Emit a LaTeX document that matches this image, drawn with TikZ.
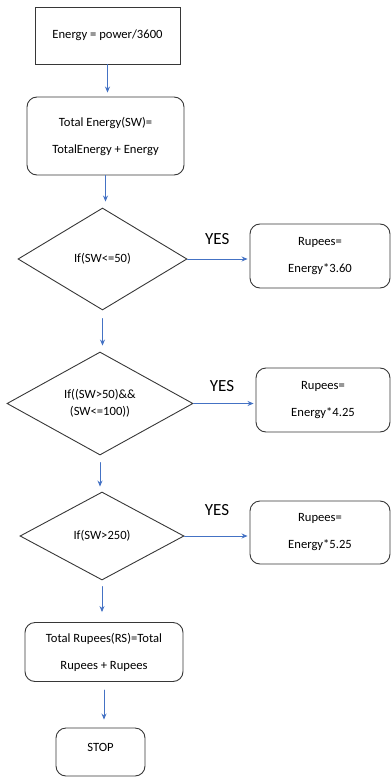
\documentclass[tikz,border=0pt]{standalone}
\usepackage{fontspec}
\setmainfont{Carlito}
\usetikzlibrary{shapes.geometric, arrows.meta}

\definecolor{flowblue}{RGB}{68,114,196}
\definecolor{boxgray}{RGB}{55,55,55}

\begin{document}
\begin{tikzpicture}[%
        x = 1pt,
        y = -1pt,
        line cap = round,
        every node/.style = {font = \fontsize{12.6}{27}\selectfont, align = center},
        plainbox/.style = {draw = boxgray, line width = 0.9pt, inner sep = 0pt},
        roundbox/.style = {plainbox, rounded corners = 10pt},
        decision/.style = {plainbox, diamond},
        flow/.style = {draw = flowblue, line width = 0.8pt,
            -{Stealth[length = 6pt, width = 5pt]}}
    ]
        % Fix the page to the size of the reference.
        \useasboundingbox (0, 0) rectangle (391, 778);

        % Boxes down the main column.
        \node[plainbox, minimum width = 145pt, minimum height = 57pt]
            (Energy) at (107.5, 35.5) {Energy = power/3600};
        \node[roundbox, minimum width = 157pt, minimum height = 78pt]
            (Total_Energy) at (105.5, 136) {Total Energy(SW)=\\TotalEnergy + Energy};

        % The three tests.
        \node[decision, minimum width = 169pt, minimum height = 102pt]
            (Test_One) at (102.5, 259) {If(SW<=50)};
        \node[decision, minimum width = 186pt, minimum height = 103pt,
            font = \fontsize{12.6}{17}\selectfont]
            (Test_Two) at (100, 403.5) {If((SW>50)\&\&\\(SW<=100))};
        \node[decision, minimum width = 164pt, minimum height = 88pt]
            (Test_Three) at (102, 536) {If(SW>250)};

        % Rupees for each test.
        \node[roundbox, minimum width = 140pt, minimum height = 64pt]
            (Rupees_One) at (320, 256) {Rupees=\\Energy*3.60};
        \node[roundbox, minimum width = 134pt, minimum height = 64pt]
            (Rupees_Two) at (323, 400) {Rupees=\\Energy*4.25};
        \node[roundbox, minimum width = 140pt, minimum height = 63pt]
            (Rupees_Three) at (320, 532.5) {Rupees=\\Energy*5.25};

        % End of the column.
        \node[roundbox, minimum width = 158pt, minimum height = 59pt]
            (Total_Rupees) at (104, 652) {Total Rupees(RS)=Total\\Rupees + Rupees};
        \node[roundbox, minimum width = 89pt, minimum height = 48pt, text depth = 10pt]
            (Stop) at (100.5, 752) {STOP};

        % Arrows down the column.
        \draw[flow, shorten > = 4pt] (Energy.south) -- (Energy.south |- Total_Energy.north);
        \draw[flow, shorten > = 6pt] (Total_Energy.south) -- (Total_Energy.south |- Test_One.north);
        \draw[flow, shorten < = 8pt, shorten > = 6pt] (Test_One.south) -- (Test_One.south |- Test_Two.north);
        \draw[flow, shorten < = 7pt, shorten > = 5pt] (Test_Two.south) -- (Test_Two.south |- Test_Three.north);
        \draw[flow, shorten < = 6pt, shorten > = 10pt] (Test_Three.south) -- (Test_Three.south |- Total_Rupees.north);
        \draw[flow, shorten < = 8pt, shorten > = 8pt] (Total_Rupees.south) -- (Total_Rupees.south |- Stop.north);

        % YES branches.
        \draw[flow, shorten > = 2pt] (Test_One.east) -- (Test_One.east -| Rupees_One.west)
            node[pos = 0.48, above = 11pt, font = \fontsize{17}{20}\selectfont] (Yes_One) {YES};
        \draw[flow, shorten > = 2pt] (Test_Two.east) -- (Test_Two.east -| Rupees_Two.west)
            node[pos = 0.46, above = 8pt, font = \fontsize{17}{20}\selectfont] (Yes_Two) {YES};
        \draw[flow, shorten > = 2pt] (Test_Three.east) -- (Test_Three.east -| Rupees_Three.west)
            node[pos = 0.5, above = 17pt, font = \fontsize{17}{20}\selectfont] (Yes_Three) {YES};
    \end{tikzpicture}
\end{document}
